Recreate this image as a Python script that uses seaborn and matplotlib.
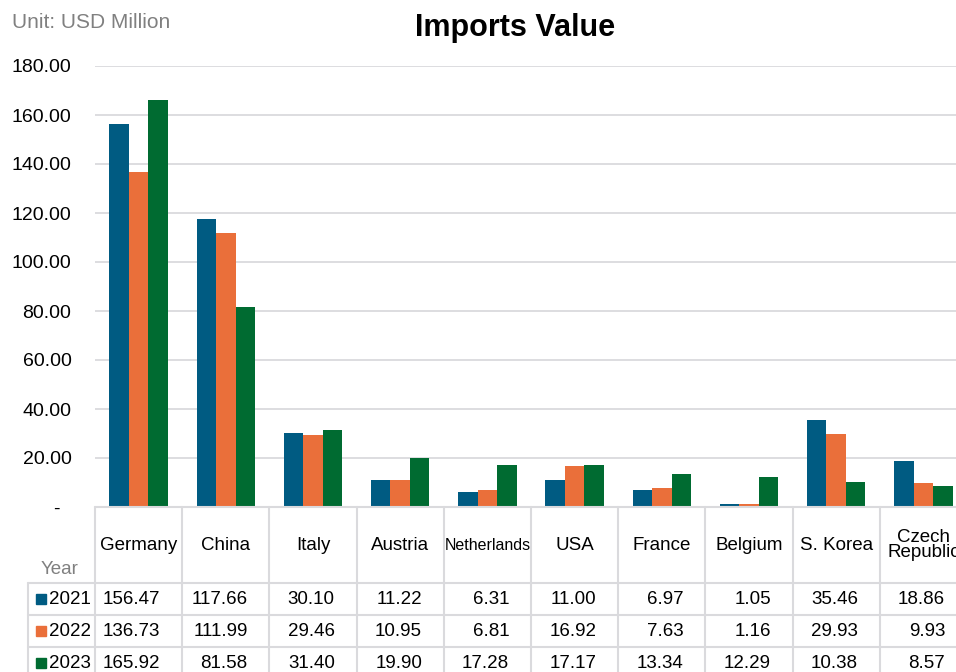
import numpy as np
import pandas as pd
import seaborn as sns
import matplotlib.pyplot as plt
from matplotlib.patches import Rectangle
from matplotlib.transforms import blended_transform_factory

countries = ['Germany', 'China', 'Italy', 'Austria', 'Netherlands', 'USA',
             'France', 'Belgium', 'S. Korea', 'Czech\nRepublic']
years = ['2021', '2022', '2023']
v2021 = [156.47, 117.66, 30.10, 11.22, 6.31, 11.00, 6.97, 1.05, 35.46, 18.86]
v2022 = [136.73, 111.99, 29.46, 10.95, 6.81, 16.92, 7.63, 1.16, 29.93, 9.93]
v2023 = [165.92, 81.58, 31.40, 19.90, 17.28, 17.17, 13.34, 12.29, 10.38, 8.57]
colors = ['#005B82', '#EA6F3A', '#006B31']

W, H = 956, 672

df = pd.DataFrame({
    'country': countries * 3,
    'year': [y for y in years for _ in countries],
    'value': v2021 + v2022 + v2023,
})
series = [v2021, v2022, v2023]

sns.set_theme(style='white')
plt.rcParams['font.family'] = ['Liberation Sans', 'DejaVu Sans']
plt.rcParams['text.color'] = 'black'

fig = plt.figure(figsize=(W / 100, H / 100), dpi=100)


def fx(px):
    return px / W


def fy(py):
    return 1 - py / H


ax = fig.add_axes([fx(95), fy(507), fx(872), fy(66) - fy(507)])
sns.barplot(data=df, x='country', y='value', hue='year', palette=colors,
            width=0.67, saturation=1, ax=ax, legend=False, linewidth=0)
ax.set_ylim(0, 180)
ax.set_xlim(-0.5, len(countries) - 0.5)
ticks = np.arange(0, 181, 20)
ax.set_yticks(ticks)
ax.set_yticklabels(['-  ' if t == 0 else f'{t:.2f}' for t in ticks], fontsize=14)
ax.tick_params(axis='y', length=0, pad=17, colors='black')
ax.set_xticks([])
ax.set_xlabel('')
ax.set_ylabel('')
ax.grid(axis='y', color='#DADADD', linewidth=1.3)
ax.set_axisbelow(True)
for s in ['left', 'right', 'top', 'bottom']:
    ax.spines[s].set_visible(False)

fig.text(fx(12), fy(23), 'Unit: USD Million', fontsize=15, color='#808080',
         ha='left', va='center')
fig.text(fx(515), fy(28), 'Imports Value', fontsize=22, fontweight='bold',
         ha='center', va='center', color='black')

# data table under the axis
tr = blended_transform_factory(ax.transData, fig.transFigure)
grid_c = '#DADADD'
n = len(countries)
row_tops = [507, 583, 615, 647, 679]
for i in range(n + 1):
    ax.plot([i - 0.5, i - 0.5], [fy(507), fy(680)], color=grid_c, lw=1.5,
            transform=tr, clip_on=False)
ax.plot([-0.5, n - 0.5], [fy(507), fy(507)], color=grid_c, lw=1.5,
        transform=tr, clip_on=False)
for r in row_tops[1:4]:
    fig.add_artist(plt.Line2D([fx(28), fx(967)], [fy(r), fy(r)], color=grid_c, lw=1.5))
fig.add_artist(plt.Line2D([fx(28), fx(28)], [fy(583), fy(680)], color=grid_c, lw=1.5))

for i, c in enumerate(countries):
    fs = 11.5 if c == 'Netherlands' else 13.5
    ax.text(i, fy(545), c, transform=tr, ha='center', va='center', fontsize=fs,
            linespacing=0.9, clip_on=False)
fig.text(fx(60), fy(570), 'Year', fontsize=13.5, color='#808080', ha='center', va='center')

for k, (yr, vals) in enumerate(zip(years, series)):
    yc = (row_tops[k + 1] + row_tops[k + 2]) / 2
    fig.add_artist(Rectangle((fx(36), fy(yc + 5)), fx(10), fy(yc - 5) - fy(yc + 5),
                             color=colors[k], transform=fig.transFigure))
    fig.text(fx(49), fy(yc), yr, fontsize=13.5, ha='left', va='center')
    for i, v in enumerate(vals):
        ax.text(i + 0.25, fy(yc), f'{v:.2f}', transform=tr, ha='right', va='center',
                fontsize=13.5, clip_on=False)

fig.savefig('out.png', dpi=100)
